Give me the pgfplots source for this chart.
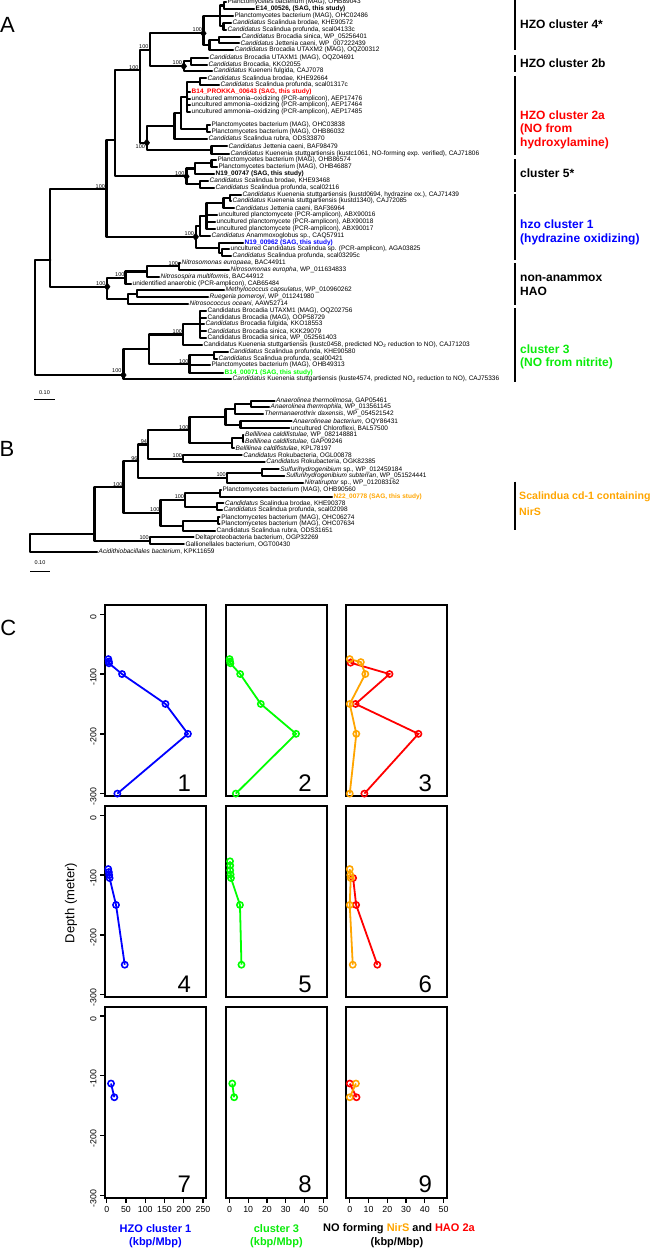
\documentclass[border=0pt]{standalone}
\usepackage{fontspec}
\setmainfont{Liberation Sans}
\usepackage{pgfplots}
\pgfplotsset{compat=1.18}
\definecolor{rblue}{RGB}{0,0,255}
\definecolor{rgreen}{RGB}{0,255,0}
\definecolor{tgreen}{RGB}{10,235,10}
\definecolor{rred}{RGB}{255,0,0}
\definecolor{rorange}{RGB}{255,165,0}
\newcommand{\fs}[1]{\fontsize{#1}{#1}\selectfont}
\newcommand{\Ca}{\textit{Candidatus}}
\newcommand{\lf}[3]{\node[leaf] at (axis cs:#1,#2) {#3};}
\newcommand{\nl}[3]{\node[nlab] at (axis cs:#1,#2) {#3};}
\tikzset{
 leaf/.style={anchor=west, inner sep=0pt, font=\fs{6.5}},
 nlab/.style={anchor=south east, inner sep=0.4pt, font=\fs{5.5}},
 clab/.style={anchor=west, inner sep=0pt, font=\bfseries\fs{12}},
}
\pgfplotsset{
 tr/.style={black, line width=2.2pt, line cap=round, line join=round, mark=none, unbounded coords=jump},
 bar/.style={black, line width=1.4pt, mark=none},
 cpan/.style={scale only axis, width=101.3pt, height=191pt, anchor=north west,
   ymin=-304, ymax=15.5, xtick=\empty, ytick=\empty, axis line style={line width=2pt},
   clip=false, tick align=outside, major tick length=5pt, tick pos=left,
   every tick/.style={black, line width=1.4pt}, tick label style={font=\fs{8.8}}},
 col1/.style={xmin=-4.43, xmax=258.6},
 col2/.style={xmin=-2, xmax=52},
 yax/.style={ytick={-300,-200,-100,0}, yticklabels={-300,-200,-100,0}, yticklabel style={rotate=90, anchor=south, xshift=-3pt}},
 xax1/.style={xtick={0,50,100,150,200,250}, xticklabels={0,50,100,150,200,250}},
 xax2/.style={xtick={0,10,20,30,40,50}, xticklabels={0,10,20,30,40,50}},
 ser/.style={line width=1.8pt, mark=o, mark size=3.1pt, mark options={line width=1.6pt}},
}
\newcommand{\pnum}[1]{\node[anchor=base, inner sep=0pt, font=\fs{24}, xshift=-22pt, yshift=5pt] at (rel axis cs:1,0) {#1};}
\begin{document}
\begin{tikzpicture}
\useasboundingbox (0,0) rectangle (664pt,-1249pt);
\begin{axis}[at={(0,0)}, anchor=north west, scale only axis, width=664pt, height=1249pt,
  xmin=0, xmax=664, ymin=0, ymax=1249, y dir=reverse, hide axis, clip=false]
% ---------------- Tree A ----------------
\addplot[tr] coordinates {(226,1.7)(224,1.7)(224,9.3)(254,9.3)};
\addplot[tr] coordinates {(231,23)(223.4,23)(223.4,29.7)(226,29.7)};
\addplot[tr] coordinates {(224,5.5)(220,5.5)(220,26.35)(223.4,26.35)(nan,nan)(220,16)(233,16)};
\addplot[tr] coordinates {(240,36.7)(219,36.7)(219,43.3)(239,43.3)};
\addplot[tr] coordinates {(219,40)(209.4,40)(209.4,50.3)(233,50.3)};
\addplot[tr] coordinates {(220,15.9)(203.4,15.9)(203.4,45.15)(209.4,45.15)};
\addplot[tr] coordinates {(208,58)(190.6,58)(190.6,64.7)(207,64.7)};
\addplot[tr] coordinates {(190.6,61.35)(183.8,61.35)(183.8,71)(212,71)};
\addplot[tr] coordinates {(203.4,33.3)(149.8,33.3)(149.8,66.2)(183.8,66.2)};
\addplot[tr] coordinates {(206,78.3)(200,78.3)(200,85)(219,85)};
\addplot[tr] coordinates {(200,81.65)(187.2,81.65)(187.2,112.3)(190,112.3)(nan,nan)(187.2,91.7)(190,91.7)(nan,nan)(187.2,98.7)(190,98.7)(nan,nan)(187.2,105.3)(190,105.3)};
\addplot[tr] coordinates {(210,125.3)(207.2,125.3)(207.2,132.3)(210,132.3)};
\addplot[tr] coordinates {(187.2,97)(180.9,97)(180.9,128.8)(207.2,128.8)};
\addplot[tr] coordinates {(180.9,112.9)(174.5,112.9)(174.5,138.7)(207,138.7)};
\addplot[tr] coordinates {(227,146.3)(211.5,146.3)(211.5,153.7)(229,153.7)};
\addplot[tr] coordinates {(174.5,125.8)(146.8,125.8)(146.8,150)(211.5,150)};
\addplot[tr] coordinates {(149.8,49.75)(140,49.75)(140,142.7)(146.8,142.7)};
\addplot[tr] coordinates {(216,160)(211.5,160)(211.5,166.7)(217,166.7)};
\addplot[tr] coordinates {(211.5,163.35)(194.9,163.35)(194.9,173.7)(214,173.7)};
\addplot[tr] coordinates {(208,180.7)(200,180.7)(200,187.7)(214,187.7)};
\addplot[tr] coordinates {(194.9,168.5)(186.4,168.5)(186.4,184.2)(200,184.2)};
\addplot[tr] coordinates {(140,70)(114.9,70)(114.9,176.35)(186.4,176.35)};
\addplot[tr] coordinates {(241,194.7)(229.8,194.7)(229.8,201.3)(231,201.3)};
\addplot[tr] coordinates {(229.8,198)(223.4,198)(223.4,208.3)(234,208.3)};
\addplot[tr] coordinates {(223.4,203.15)(206.4,203.15)(206.4,228.7)(215,228.7)(nan,nan)(206.4,215)(217,215)(nan,nan)(206.4,222)(215,222)};
\addplot[tr] coordinates {(206.4,215.9)(200,215.9)(200,235.7)(210,235.7)};
\addplot[tr] coordinates {(229,249.3)(222,249.3)(222,256.3)(231,256.3)};
\addplot[tr] coordinates {(243,242.7)(219,242.7)(219,252.8)(222,252.8)};
\addplot[tr] coordinates {(200,225.8)(195.7,225.8)(195.7,247.75)(219,247.75)};
\addplot[tr] coordinates {(114.9,140.3)(106.4,140.3)(106.4,236.8)(195.7,236.8)};
\addplot[tr] coordinates {(180,262.7)(179,262.7)(179,270)(229,270)};
\addplot[tr] coordinates {(179,266.35)(146.8,266.35)(146.8,276.7)(159,276.7)};
\addplot[tr] coordinates {(146.8,271.5)(125.5,271.5)(125.5,283.7)(131,283.7)};
\addplot[tr] coordinates {(224,290.3)(137,290.3)(137,297.3)(208,297.3)};
\addplot[tr] coordinates {(137,293.8)(127.7,293.8)(127.7,304)(188,304)};
\addplot[tr] coordinates {(125.5,277.6)(107.2,277.6)(107.2,298.9)(127.7,298.9)};
\addplot[tr] coordinates {(106.4,189.3)(50.2,189.3)(50.2,286.7)(107.2,286.7)};
\addplot[tr] coordinates {(206,310.7)(200,310.7)(200,338)(206,338)(nan,nan)(200,317.7)(206,317.7)(nan,nan)(200,324.3)(204,324.3)(nan,nan)(200,331.3)(206,331.3)};
\addplot[tr] coordinates {(200,324.3)(183,324.3)(183,344.7)(202,344.7)};
\addplot[tr] coordinates {(228,351.7)(214,351.7)(214,358.7)(217,358.7)};
\addplot[tr] coordinates {(214,355.2)(189.4,355.2)(189.4,372.7)(223,372.7)(nan,nan)(189.4,365.3)(210,365.3)};
\addplot[tr] coordinates {(183,334.5)(149,334.5)(149,364)(189.4,364)};
\addplot[tr] coordinates {(149,349.25)(123.4,349.25)(123.4,379.3)(231,379.3)};
\addplot[tr] coordinates {(50.2,260)(34.9,260)(34.9,375)(123.4,375)};
\addplot[only marks, mark=diamond*, mark size=3.8pt, black] coordinates {(203.4,33.3)(183.8,66.2)(146.8,142.7)(186.4,176.35)(195.7,236.8)(107.2,286.7)(123.4,375)};
% node labels A
\nl{202.5}{32.5}{100}\nl{182.5}{65.5}{100}\nl{149}{49.5}{100}\nl{139}{70}{100}
\node[nlab, anchor=north east] at (axis cs:145.5,144){100};
\nl{185}{176}{100}\nl{105.5}{189}{100}\nl{194.5}{236.5}{100}\nl{106}{286.5}{100}
\nl{178.5}{266}{100}\nl{125}{277.5}{100}\nl{122}{373}{100}\nl{182.5}{334}{100}\nl{189}{364}{100}
% leaves A
\lf{227.5}{1.7}{Planctomycetes bacterium (MAG), OHB89043}
\lf{255.5}{9.3}{\textbf{E14\_00526,  (SAG, this study)}}
\lf{234.5}{16}{Planctomycetes bacterium (MAG), OHC02486}
\lf{232.5}{23}{\Ca{} Scalindua brodae, KHE90572}
\lf{227.5}{29.7}{\Ca{} Scalindua profunda, scal04133c}
\lf{241.5}{36.7}{\Ca{} Brocadia sinica, WP\_05256401}
\lf{240.5}{43.3}{\Ca{} Jettenia caeni, WP\_007222439}
\lf{234.5}{50.3}{\Ca{} Brocadia UTAXM2 (MAG), OQZ00312}
\lf{209.5}{58}{\Ca{} Brocadia UTAXM1 (MAG), OQZ04691}
\lf{208.5}{64.7}{\Ca{} Brocadia, KKO2055}
\lf{213.5}{71}{\Ca{} Kueneni fulgida, CAJ7078}
\lf{207.5}{78.3}{\Ca{} Scalindua brodae, KHE92664}
\lf{220.5}{85}{\Ca{} Scalindua profunda, scal01317c}
\lf{191.5}{91.7}{\textcolor{rred}{\textbf{B14\_PROKKA\_00643 (SAG, this study)}}}
\lf{191.5}{98.7}{uncultured ammonia--oxidizing (PCR-amplicon), AEP17476}
\lf{191.5}{105.3}{uncultured ammonia--oxidizing (PCR-amplicon), AEP17464}
\lf{191.5}{112.3}{uncultured ammonia--oxidizing (PCR-amplicon), AEP17485}
\lf{211.5}{125.3}{Planctomycetes bacterium (MAG), OHC03838}
\lf{211.5}{132.3}{Planctomycetes bacterium (MAG), OHB86032}
\lf{208.5}{138.7}{\Ca{} Scalindua rubra, ODS33870}
\lf{228.5}{146.3}{\Ca{} Jettenia caeni, BAF98479}
\lf{230.5}{153.7}{\Ca{} Kuenenia stuttgartiensis (kustc1061, NO-forming exp. verified), CAJ71806}
\lf{217.5}{160}{Planctomycetes bacterium (MAG), OHB86574}
\lf{218.5}{166.7}{Planctomycetes bacterium (MAG), OHB46887}
\lf{215.5}{173.7}{\textbf{N19\_00747 (SAG, this study)}}
\lf{209.5}{180.7}{\Ca{} Scalindua brodae, KHE93468}
\lf{215.5}{187.7}{\Ca{} Scalindua profunda, scal02116}
\lf{242.5}{194.7}{\Ca{} Kuenenia stuttgartiensis (kustd0694, hydrazine ox.), CAJ71439}
\lf{232.5}{201.3}{\Ca{} Kuenenia stuttgartiensis (kustd1340), CAJ72085}
\lf{235.5}{208.3}{\Ca{} Jettenia caeni, BAF36964}
\lf{218.5}{215}{uncultured planctomycete (PCR-amplicon), ABX90016}
\lf{216.5}{222}{uncultured planctomycete (PCR-amplicon), ABX90018}
\lf{216.5}{228.7}{uncultured planctomycete (PCR-amplicon), ABX90017}
\lf{211.5}{235.7}{\Ca{} Anammoxoglobus sp., CAQ57911}
\lf{244.5}{242.7}{\textcolor{rblue}{\textbf{N19\_00962 (SAG, this study)}}}
\lf{230.5}{249.3}{uncultured Candidatus Scalindua sp. (PCR-amplicon), AGA03825}
\lf{232.5}{256.3}{\Ca{} Scalindua profunda, scal03295c}
\lf{181.5}{262.7}{\textit{Nitrosomonas europaea}, BAC44911}
\lf{230.5}{270}{\textit{Nitrosomonas europha}, WP\_011634833}
\lf{160.5}{276.7}{\textit{Nitrosospira multiformis}, BAC44912}
\lf{132.5}{283.7}{unidentified anaerobic (PCR-amplicon), CAB65484}
\lf{225.5}{290.3}{\textit{Methylococcus capsulatus}, WP\_010960262}
\lf{209.5}{297.3}{\textit{Ruegeria pomeroyi}, WP\_011241980}
\lf{189.5}{304}{\textit{Nitrosococcus oceani}, AAW52714}
\lf{207.5}{310.7}{Candidatus Brocadia UTAXM1 (MAG), OQZ02756}
\lf{207.5}{317.7}{Candidatus Brocadia (MAG), OOP58729}
\lf{205.5}{324.3}{\Ca{} Brocadia fulgida, KKO18553}
\lf{207.5}{331.3}{\Ca{} Brocadia sinica, KXK29079}
\lf{207.5}{338}{Candidatus Brocadia sinica, WP\_052561403}
\lf{203.5}{344.7}{Candidatus Kuenenia stuttgartiensis (kustc0458, predicted NO\textsubscript{2} reduction to NO), CAJ71203}
\lf{229.5}{351.7}{\Ca{} Scalindua profunda, KHE90580}
\lf{218.5}{358.7}{\Ca{} Scalindua profunda, scal00421}
\lf{211.5}{365.3}{Planctomycetes bacterium (MAG), OHB49313}
\lf{224.5}{372.7}{\textcolor{rgreen}{\textbf{B14\_00071 (SAG, this study)}}}
\lf{232.5}{379.3}{\Ca{} Kuenenia stuttgartiensis (kuste4574, predicted NO\textsubscript{2} reduction to NO), CAJ75336}
% cluster bars and labels
\addplot[bar] coordinates {(515,0)(515,50)};
\addplot[bar] coordinates {(515,55)(515,71.7)};
\addplot[bar] coordinates {(515,76)(515,155)};
\addplot[bar] coordinates {(515,159.3)(515,191.7)};
\addplot[bar] coordinates {(515,194)(515,260)};
\addplot[bar] coordinates {(515,263.3)(515,305)};
\addplot[bar] coordinates {(515,308.3)(515,381.7)};
\addplot[bar] coordinates {(515,481.7)(515,530)};
\node[clab] at (axis cs:520,24){HZO cluster 4*};
\node[clab] at (axis cs:520,63.3){HZO cluster 2b};
\node[clab, rred] at (axis cs:520,115){HZO cluster 2a};
\node[clab, rred] at (axis cs:520,129.3){(NO from};
\node[clab, rred] at (axis cs:520,143.3){hydroxylamine)};
\node[clab] at (axis cs:520,172.7){cluster 5*};
\node[clab, rblue] at (axis cs:520,224){hzo cluster 1};
\node[clab, rblue] at (axis cs:520,239){(hydrazine oxidizing)};
\node[clab] at (axis cs:520,278.3){non-anammox};
\node[clab] at (axis cs:520,291.7){HAO};
\node[clab, tgreen] at (axis cs:520,349.3){cluster 3};
\node[clab, tgreen] at (axis cs:520,363.3){(NO from nitrite)};
\node[clab, rorange, font=\bfseries\fs{10.6}] at (axis cs:519,496.7){Scalindua cd-1 containing};
\node[clab, rorange, font=\bfseries\fs{10.6}] at (axis cs:519,511.7){NirS};
% scale bars
\addplot[black, line width=1.5pt] coordinates {(34,399.3)(55.3,399.3)};
\node[font=\fs{5.5}, inner sep=0pt] at (axis cs:44.5,392.7){0.10};
\addplot[black, line width=1.5pt] coordinates {(30,571.7)(50,571.7)};
\node[font=\fs{5.5}, inner sep=0pt] at (axis cs:40,563){0.10};
% panel letters
\node[font=\fs{22}, inner sep=0pt] at (axis cs:7.5,25){A};
\node[font=\fs{22}, inner sep=0pt] at (axis cs:7,449){B};
\node[font=\fs{22}, inner sep=0pt] at (axis cs:8.3,628){C};
% ---------------- Tree B ----------------
\addplot[tr] coordinates {(274.5,400.7)(251,400.7)(251,407.3)(269,407.3)};
\addplot[tr] coordinates {(251,404)(235,404)(235,414)(263,414)};
\addplot[tr] coordinates {(291.5,421.3)(240.4,421.3)(240.4,428.3)(289.4,428.3)};
\addplot[tr] coordinates {(235,409)(225.5,409)(225.5,424.8)(240.4,424.8)};
\addplot[tr] coordinates {(243.4,435)(242.6,435)(242.6,441.7)(243.4,441.7)};
\addplot[tr] coordinates {(242.6,438.35)(232,438.35)(232,448.3)(234,448.3)};
\addplot[tr] coordinates {(225.5,416.9)(189.4,416.9)(189.4,443.3)(232,443.3)};
\addplot[tr] coordinates {(241.7,455.3)(183,455.3)(183,462)(264.7,462)};
\addplot[tr] coordinates {(189.4,430.1)(148,430.1)(148,458.65)(183,458.65)};
\addplot[tr] coordinates {(278.7,469.3)(261.7,469.3)(261.7,476)(284.3,476)};
\addplot[tr] coordinates {(261.7,472.65)(226.8,472.65)(226.8,483)(303,483)};
\addplot[tr] coordinates {(148,444.4)(138.3,444.4)(138.3,477.8)(226.8,477.8)};
\addplot[tr] coordinates {(221,489.7)(220,489.7)(220,496.7)(332,496.7)};
\addplot[tr] coordinates {(223.4,503.3)(217,503.3)(217,510)(222,510)};
\addplot[tr] coordinates {(220,493.2)(185.1,493.2)(185.1,506.65)(217,506.65)};
\addplot[tr] coordinates {(219.6,517.3)(218,517.3)(218,524)(219.6,524)};
\addplot[tr] coordinates {(218,520.65)(183,520.65)(183,531)(215,531)};
\addplot[tr] coordinates {(185.1,499.9)(160.4,499.9)(160.4,525.8)(183,525.8)};
\addplot[tr] coordinates {(138.3,461.1)(123.4,461.1)(123.4,512.9)(160.4,512.9)};
\addplot[tr] coordinates {(193.6,537.3)(149.8,537.3)(149.8,544.3)(183.8,544.3)};
\addplot[tr] coordinates {(123.4,487)(94.5,487)(94.5,540.8)(149.8,540.8)};
\addplot[tr] coordinates {(94.5,534)(29.8,534)(29.8,551.7)(97,551.7)};
\nl{189}{430}{100}\nl{147.5}{444}{94}\nl{182.5}{458.5}{100}\nl{226.3}{477.5}{100}\nl{138}{461}{96}
\nl{184.6}{499.5}{100}\nl{160}{512.5}{100}\nl{123}{487}{100}\nl{149.3}{540.5}{100}
\lf{276}{400.7}{\textit{Anaerolinea thermolimosa}, GAP05461}
\lf{270.5}{407.3}{\textit{Anaerolinea thermophila}, WP\_013561145}
\lf{264.5}{414}{\textit{Thermanaerothrix daxensis}, WP\_054521542}
\lf{293}{421.3}{\textit{Anaerolineae bacterium}, OQY86431}
\lf{291}{428.3}{uncultured Chloroflexi, BAL57500}
\lf{245}{435}{\textit{Bellilinea caldifistulae}, WP\_082148881}
\lf{245}{441.7}{\textit{Bellilinea caldifistulae}, GAP09246}
\lf{235.5}{448.3}{\textit{Bellilinea caldifistulae}, KPL78197}
\lf{243.2}{455.3}{\Ca{} Rokubacteria, OGL00878}
\lf{266.2}{462}{\Ca{} Rokubacteria, OGK82385}
\lf{280.2}{469.3}{\textit{Sulfurihydrogenibium} sp., WP\_012459184}
\lf{285.8}{476}{\textit{Sulfurihydrogenibium subterran}, WP\_051524441}
\lf{304.5}{483}{\textit{Nitratiruptor} sp., WP\_012083162}
\lf{222.5}{489.7}{Planctomycetes bacterium (MAG), OHB90560}
\lf{333.5}{496.7}{\textcolor{rorange}{\textbf{N22\_00778 (SAG, this study)}}}
\lf{225}{503.3}{\Ca{} Scalindua brodae, KHE90378}
\lf{223.5}{510}{\Ca{} Scalindua profunda, scal02098}
\lf{221.1}{517.3}{Planctomycetes bacterium (MAG), OHC06274}
\lf{221.1}{524}{Planctomycetes bacterium (MAG), OHC07634}
\lf{216.5}{531}{Candidatus Scalindua rubra, ODS31651}
\lf{195.1}{537.3}{Deltaproteobacteria bacterium, OGP32269}
\lf{185.3}{544.3}{Gallionellales bacterium, OGT00430}
\lf{98.5}{551.7}{\textit{Acidithiobacillales bacterium}, KPK11659}
% panel C labels
\node[rotate=90, font=\fs{13}, inner sep=0pt] at (axis cs:71,903){Depth (meter)};
\node[font=\bfseries\fs{11}, rblue, inner sep=0pt] at (axis cs:155.5,1229){HZO cluster 1};
\node[font=\bfseries\fs{11}, rblue, inner sep=0pt] at (axis cs:155.5,1243){(kbp/Mbp)};
\node[font=\bfseries\fs{11}, tgreen, inner sep=0pt] at (axis cs:276.5,1229){cluster 3};
\node[font=\bfseries\fs{11}, tgreen, inner sep=0pt] at (axis cs:276.5,1243){(kbp/Mbp)};
\node[font=\bfseries\fs{11}, inner sep=0pt] at (axis cs:399,1229){NO forming \textcolor{rorange}{NirS} and \textcolor{rred}{HAO 2a}};
\node[font=\bfseries\fs{11}, inner sep=0pt] at (axis cs:397,1243){(kbp/Mbp)};
\end{axis}
% ---------------- Panel C ----------------
% row 1
\begin{axis}[cpan, col1, yax, at={(105pt,-605pt)}]
\addplot[ser, rblue] coordinates {(4.2,-75)(5.5,-79)(6,-82)(39.8,-100)(152.6,-150)(210.9,-200)(27.6,-300)};
\pnum{1}
\end{axis}
\begin{axis}[cpan, col2, at={(225.7pt,-605pt)}]
\addplot[ser, rgreen] coordinates {(0.1,-75)(0.3,-79)(0.5,-82)(5.7,-100)(16.7,-150)(35.5,-200)(3.4,-300)};
\pnum{2}
\end{axis}
\begin{axis}[cpan, col2, at={(346pt,-605pt)}]
\addplot[ser, rred] coordinates {(0.4,-81)(21.2,-100)(3.1,-150)(36.6,-200)(7.8,-300)};
\addplot[ser, rorange] coordinates {(0,-75)(5.9,-80)(8.3,-100)(0,-150)(3.5,-200)(0,-300)};
\pnum{3}
\end{axis}
% row 2
\begin{axis}[cpan, col1, yax, at={(105pt,-806pt)}]
\addplot[ser, rblue] coordinates {(4,-90)(5.5,-95)(6.5,-100)(7.5,-105)(24.2,-150)(46.8,-250)};
\pnum{4}
\end{axis}
\begin{axis}[cpan, col2, at={(225.7pt,-806pt)}]
\addplot[ser, rgreen] coordinates {(0.3,-77)(0.4,-84)(0.4,-92)(0.6,-99)(0.8,-105)(5.6,-150)(6.4,-250)};
\pnum{5}
\end{axis}
\begin{axis}[cpan, col2, at={(346pt,-806pt)}]
\addplot[ser, rred] coordinates {(1.8,-105)(3.4,-150)(14.7,-250)};
\addplot[ser, rorange] coordinates {(0,-90)(0.3,-100)(0.5,-105)(0,-150)(1.6,-250)};
\pnum{6}
\end{axis}
% row 3
\begin{axis}[cpan, col1, yax, xax1, at={(105pt,-1006.7pt)}]
\addplot[ser, rblue] coordinates {(11.2,-113)(19.8,-136)};
\pnum{7}
\end{axis}
\begin{axis}[cpan, col2, xax2, at={(225.7pt,-1006.7pt)}]
\addplot[ser, rgreen] coordinates {(1.5,-113)(2.5,-136)};
\pnum{8}
\end{axis}
\begin{axis}[cpan, col2, xax2, at={(346pt,-1006.7pt)}]
\addplot[ser, rred] coordinates {(0,-113)(3.6,-136)};
\addplot[ser, rorange] coordinates {(3.3,-113)(0,-136)};
\pnum{9}
\end{axis}
\end{tikzpicture}
\end{document}
